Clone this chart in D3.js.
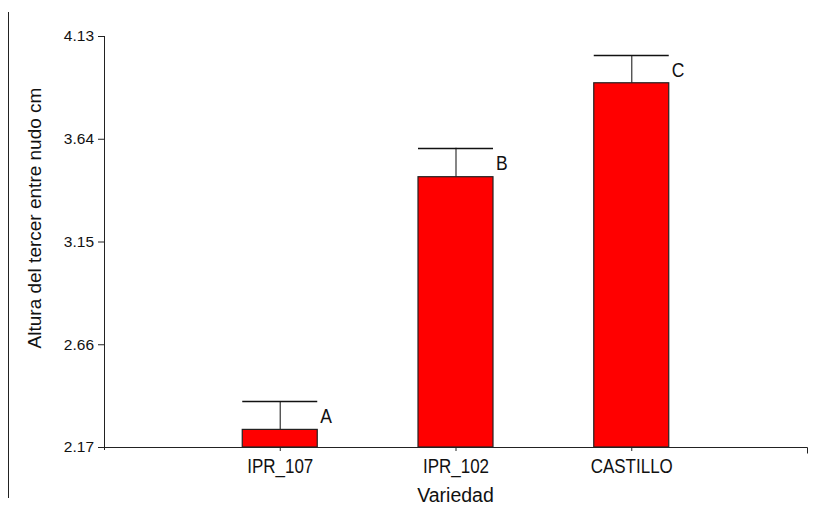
<!DOCTYPE html>
<html>
<head>
<meta charset="utf-8">
<script src="https://cdn.jsdelivr.net/npm/d3@7"></script>
<style>
  body { margin: 0; background: #fff; }
  text { font-family: "Liberation Sans", Arial, sans-serif; fill: #111; }
</style>
</head>
<body>
<svg id="chart" width="815" height="518"></svg>
<script>
// data
var variedades = ["IPR_107", "IPR_102", "CASTILLO"];
var medias = [2.254, 3.459, 3.907];
var errores = [0.135, 0.138, 0.131];
var letras = ["A", "B", "C"];
var yTicks = [2.17, 2.66, 3.15, 3.64, 4.13];

var svg = d3.select("#chart");

// plot box (note: "top" is taken by window.top)
var pLeft = 104, pRight = 807, pTop = 36, pBottom = 447;
var barW = 75;

var x = d3.scalePoint()
  .domain(variedades)
  .range([pLeft, pRight])
  .padding(1);

var y = d3.scaleLinear()
  .domain([2.17, 4.13])
  .range([pBottom, pTop]);

// left frame line
svg.append("line")
  .attr("x1", 8.5).attr("x2", 8.5)
  .attr("y1", 12).attr("y2", 498)
  .attr("stroke", "#222").attr("stroke-width", 1);

let data = variedades.map(function(d, i) {
  return { name: d, m: medias[i], e: errores[i], l: letras[i] }
});

// error bars (only upward)
let err = svg.append("g").attr("class", "errors")
  .selectAll("g").data(data).enter().append("g");

err.append("line")
  .attr("x1", d => x(d.name) + 0.5)
  .attr("x2", d => x(d.name) + 0.5)
  .attr("y1", d => y(d.m))
  .attr("y2", d => y(d.m + d.e))
  .attr("stroke", "#444").attr("stroke-width", 1.3);

err.append("line")
  .attr("x1", d => x(d.name) - barW / 2)
  .attr("x2", d => x(d.name) + barW / 2)
  .attr("y1", d => Math.round(y(d.m + d.e)) + 0.5)
  .attr("y2", d => Math.round(y(d.m + d.e)) + 0.5)
  .attr("stroke", "#111").attr("stroke-width", 1.3);

// bars
svg.append("g").attr("class", "bars")
  .selectAll("rect").data(data).enter().append("rect")
  .attr("x", d => x(d.name) - barW / 2)
  .attr("y", d => y(d.m))
  .attr("width", barW)
  .attr("height", d => y(2.17) - y(d.m))
  .attr("fill", "#ff0000")
  .attr("stroke", "#222").attr("stroke-width", 1.2);

// letters next to bars
svg.append("g").attr("class", "letters")
  .selectAll("text").data(data).enter().append("text")
  .attr("transform", function(d) {
    var mid = (y(d.m) + y(d.m + d.e)) / 2;
    return "translate(" + (x(d.name) + barW / 2 + 3) + "," + (mid + 8) + ") scale(1,1.15)";
  })
  .attr("font-size", 17.5)
  .text(d => d.l);

// y axis
let yAxis = svg.append("g")
  .attr("transform", "translate(" + pLeft + ",0)")
  .call(d3.axisLeft(y).tickValues(yTicks).tickFormat(d3.format(".2f")).tickSize(6).tickSizeOuter(0).tickPadding(4));
yAxis.select(".domain").attr("stroke", "#222").attr("d", "M0.5," + pTop + "V" + (pBottom + 3));
yAxis.selectAll(".tick line").attr("stroke", "#222");
yAxis.selectAll(".tick text")
  .attr("font-size", 15.5)
  .attr("font-family", "Liberation Sans, Arial, sans-serif")
  .attr("fill", "#111");

// x axis
let xAxis = svg.append("g")
  .attr("transform", "translate(0," + pBottom + ")")
  .call(d3.axisBottom(x).tickSize(4).tickSizeOuter(0).tickPadding(8));
xAxis.select(".domain").attr("stroke", "#222")
  .attr("d", "M" + pLeft + ",0.5H" + (pRight + 0.5) + "V6.5");
xAxis.selectAll(".tick line").attr("stroke", "#222");
xAxis.selectAll(".tick text").remove();
xAxis.selectAll(".tick").append("text")
  .attr("transform", "translate(0,26) scale(1,1.15)")
  .attr("text-anchor", "middle")
  .attr("font-size", 17)
  .attr("fill", "#111")
  .text(d => d);

// axis titles
svg.append("text")
  .attr("x", x(variedades[1]))
  .attr("y", 502)
  .attr("text-anchor", "middle")
  .attr("font-size", 19.5)
  .text("Variedad");

svg.append("text")
  .attr("transform", "translate(41,218) rotate(-90)")
  .attr("text-anchor", "middle")
  .attr("font-size", 19)
  .text("Altura del tercer entre nudo cm");
</script>
</body>
</html>
